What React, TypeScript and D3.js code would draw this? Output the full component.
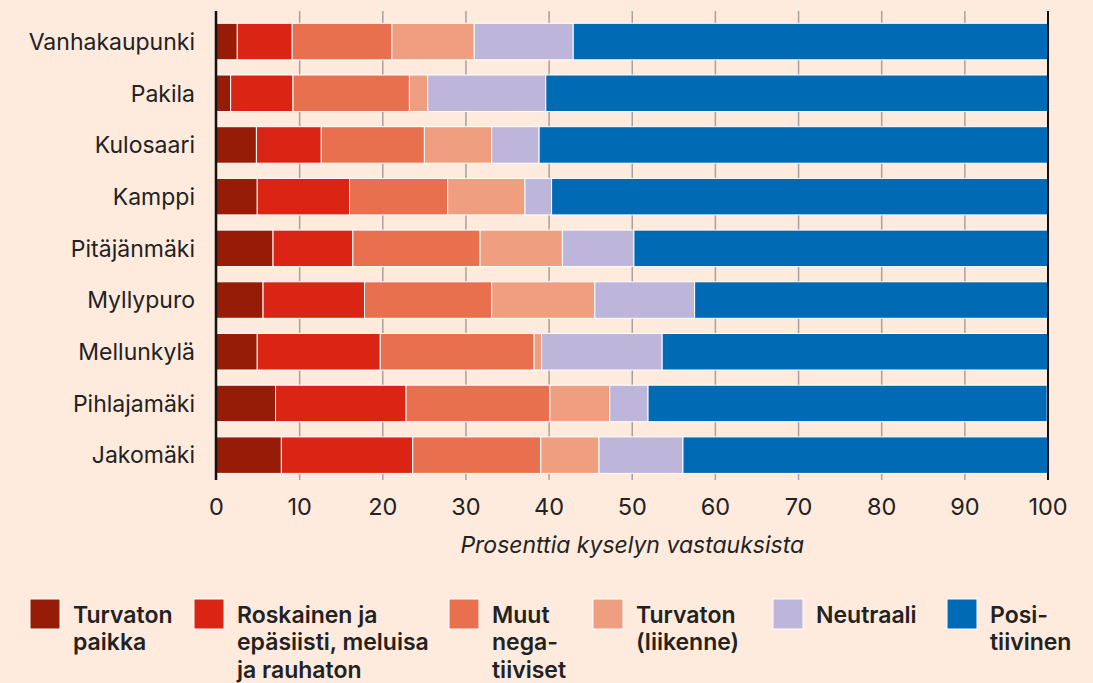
import * as d3 from "d3";

const categories = [
  "Vanhakaupunki",
  "Pakila",
  "Kulosaari",
  "Kamppi",
  "Pitäjänmäki",
  "Myllypuro",
  "Mellunkylä",
  "Pihlajamäki",
  "Jakomäki",
];

const turvatonPaikka = [2.5, 1.7, 4.8, 4.9, 6.8, 5.6, 4.9, 7.1, 7.8];
const roskainen = [6.6, 7.5, 7.8, 11.1, 9.6, 12.2, 14.8, 15.7, 15.8];
const muutNegatiiviset = [12.0, 14.0, 12.4, 11.8, 15.3, 15.3, 18.5, 17.3, 15.4];
const turvatonLiikenne = [9.9, 2.2, 8.1, 9.3, 9.9, 12.4, 0.9, 7.2, 7.0];
const neutraali = [11.9, 14.2, 5.7, 3.2, 8.6, 12.0, 14.5, 4.6, 10.1];
const positiivinen = [57.1, 60.4, 61.2, 59.7, 49.8, 42.5, 46.4, 48.0, 43.9];

const seriesKeys = ["tp", "ro", "mn", "tl", "ne", "po"];
const seriesLabels = [
  ["Turvaton", "paikka"],
  ["Roskainen ja", "epäsiisti, meluisa", "ja rauhaton"],
  ["Muut", "nega-", "tiiviset"],
  ["Turvaton", "(liikenne)"],
  ["Neutraali"],
  ["Posi-", "tiivinen"],
];
const colors = ["#961c07", "#da2515", "#e8704e", "#f09e80", "#bdb5da", "#006ab4"];
const xTicks = [0, 10, 20, 30, 40, 50, 60, 70, 80, 90, 100];

const legendX = [30, 194, 449, 593, 773, 947];

const FONT = "Inter, Roboto, 'Noto Sans', sans-serif";
const INK = "#222";

export default function App() {
  const width = 1093;
  const height = 683;
  const left = 216.5;
  const right = 1048;
  const top = 11;
  const bottom = 480;

  const rows = categories.map((c, i) => ({
    name: c,
    tp: turvatonPaikka[i],
    ro: roskainen[i],
    mn: muutNegatiiviset[i],
    tl: turvatonLiikenne[i],
    ne: neutraali[i],
    po: positiivinen[i],
  }));

  const stacked = d3.stack<any>().keys(seriesKeys)(rows);

  const x = d3.scaleLinear().domain([0, 100]).range([left, right]);
  const y = d3
    .scaleBand()
    .domain(categories)
    .range([15.7, 15.7 + 9 * 51.7])
    .paddingInner(0.294)
    .paddingOuter(0.147);

  return (
    <svg
      width={width}
      height={height}
      style={{ position: "absolute", top: 0, left: 0, background: "#feebdd" }}
    >
      <rect width={width} height={height} fill="#feebdd" />

      {/* grid */}
      {xTicks.slice(1, -1).map((t) => (
        <line
          key={t}
          x1={x(t)}
          x2={x(t)}
          y1={top}
          y2={bottom}
          stroke="#a8a19c"
          strokeWidth={1.5}
        />
      ))}

      {/* bars */}
      {stacked.map((s, si) =>
        s.map((d, i) => (
          <rect
            key={`${si}-${i}`}
            x={x(d[0])}
            y={y(categories[i])}
            width={Math.max(0, x(d[1]) - x(d[0]))}
            height={y.bandwidth()}
            fill={colors[si]}
            stroke="#fff"
            strokeWidth={1}
          />
        ))
      )}

      {/* axis lines */}
      <line x1={left - 0.5} x2={left - 0.5} y1={top} y2={bottom} stroke="#111" strokeWidth={2.5} />
      <line x1={right} x2={right} y1={top} y2={bottom} stroke="#111" strokeWidth={2} />

      {/* category labels */}
      {categories.map((c) => (
        <text
          key={c}
          x={195}
          y={y(c)! + y.bandwidth() / 2}
          dy="0.36em"
          textAnchor="end"
          fontFamily={FONT}
          fontSize={23}
          fill={INK}
        >
          {c}
        </text>
      ))}

      {/* tick labels */}
      {xTicks.map((t) => (
        <text
          key={t}
          x={x(t)}
          y={515}
          textAnchor="middle"
          fontFamily={FONT}
          fontSize={23.5}
          fill={INK}
        >
          {t}
        </text>
      ))}

      <text
        x={(left + right) / 2}
        y={553}
        textAnchor="middle"
        fontFamily={FONT}
        fontStyle="italic"
        fontSize={23}
        fill={INK}
      >
        Prosenttia kyselyn vastauksista
      </text>

      {/* legend */}
      {seriesLabels.map((lines, i) => (
        <g key={i} transform={`translate(${legendX[i]},599)`}>
          <rect width={30} height={30} fill={colors[i]} stroke="#fff" strokeWidth={1} />
          {lines.map((ln, j) => (
            <text
              key={j}
              x={43}
              y={23.5 + j * 27.6}
              fontFamily={FONT}
              fontSize={23}
              fontWeight={600}
              fill={INK}
            >
              {ln}
            </text>
          ))}
        </g>
      ))}
    </svg>
  );
}
